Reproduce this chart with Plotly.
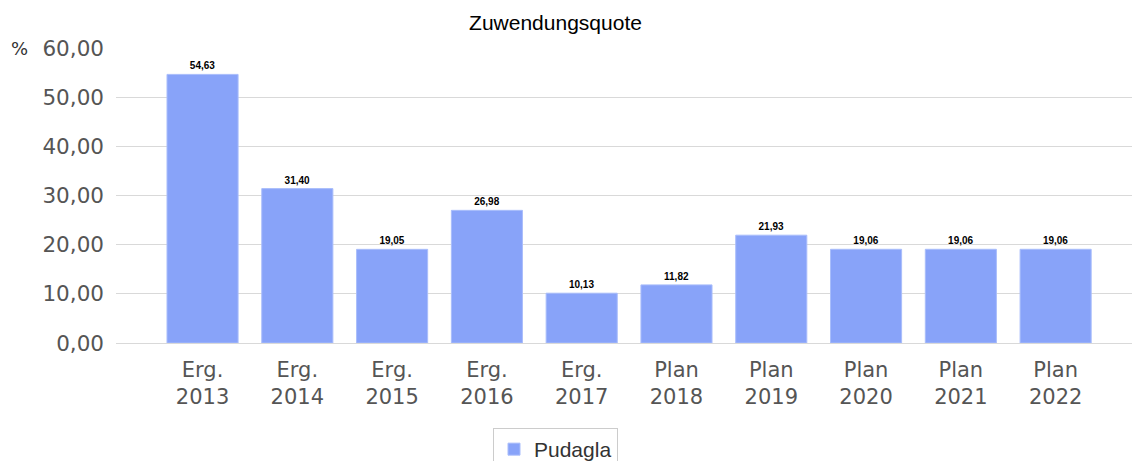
import plotly.graph_objects as go

categories = ["Erg.<br>2013", "Erg.<br>2014", "Erg.<br>2015", "Erg.<br>2016", "Erg.<br>2017",
              "Plan<br>2018", "Plan<br>2019", "Plan<br>2020", "Plan<br>2021", "Plan<br>2022"]
values = [54.63, 31.40, 19.05, 26.98, 10.13, 11.82, 21.93, 19.06, 19.06, 19.06]
series_name = "Pudagla"
y_ticks = [0, 10, 20, 30, 40, 50, 60]

labels = [f"{v:.2f}".replace(".", ",") for v in values]
x_idx = list(range(len(categories)))

W, H = 1132, 453  # page has an 8px body margin

fig = go.Figure()
fig.add_trace(go.Bar(
    x=x_idx, y=values, name=series_name,
    marker=dict(color="#88a3f9", line=dict(color="#a9bdfb", width=1)),
    text=labels, textposition="outside", cliponaxis=False,
    textfont=dict(family="Liberation Sans, Arial", size=10, color="#000000", weight="bold"),
    showlegend=True,
))

fig.update_layout(
    width=W, height=H,
    margin=dict(l=108, r=0, t=40, b=118, autoexpand=False),
    paper_bgcolor="white", plot_bgcolor="white",
    separators=",.",
    bargap=0.25,
    title=dict(text="Zuwendungsquote", x=547.5 / W, xanchor="center", xref="container",
               y=1 - 14.5 / H, yanchor="middle", yref="container",
               font=dict(family="Liberation Sans, Arial", size=21, color="#000000")),
    xaxis=dict(
        tickmode="array", tickvals=x_idx, ticktext=categories,
        range=[-0.913, 9.89], showgrid=False, zeroline=False, showline=False,
        ticks="", automargin=False, ticklabelstandoff=12,
        tickfont=dict(family="DejaVu Sans", size=21, color="#555555"),
    ),
    yaxis=dict(
        range=[0, 60], tickvals=y_ticks, tickformat=".2f",
        showgrid=True, gridcolor="#d9d9d9", gridwidth=1,
        zeroline=True, zerolinecolor="#d9d9d9", zerolinewidth=1,
        showline=False, ticks="", ticklabelstandoff=11, automargin=False,
        tickfont=dict(family="DejaVu Sans", size=21.5, color="#555555"),
    ),
    legend=dict(
        orientation="h", x=547.5 / W, xanchor="center", xref="container",
        y=1 - 420 / H, yanchor="top", yref="container",
        bordercolor="#cccccc", borderwidth=1, bgcolor="white",
        font=dict(family="Liberation Sans, Arial", size=21, color="#333333"),
    ),
    annotations=[dict(text="%", xref="paper", yref="y", x=-0.094, y=60,
                      xanchor="center", yanchor="middle", showarrow=False,
                      font=dict(family="DejaVu Sans", size=18, color="#333333"))],
)

fig.write_html("out.html")
